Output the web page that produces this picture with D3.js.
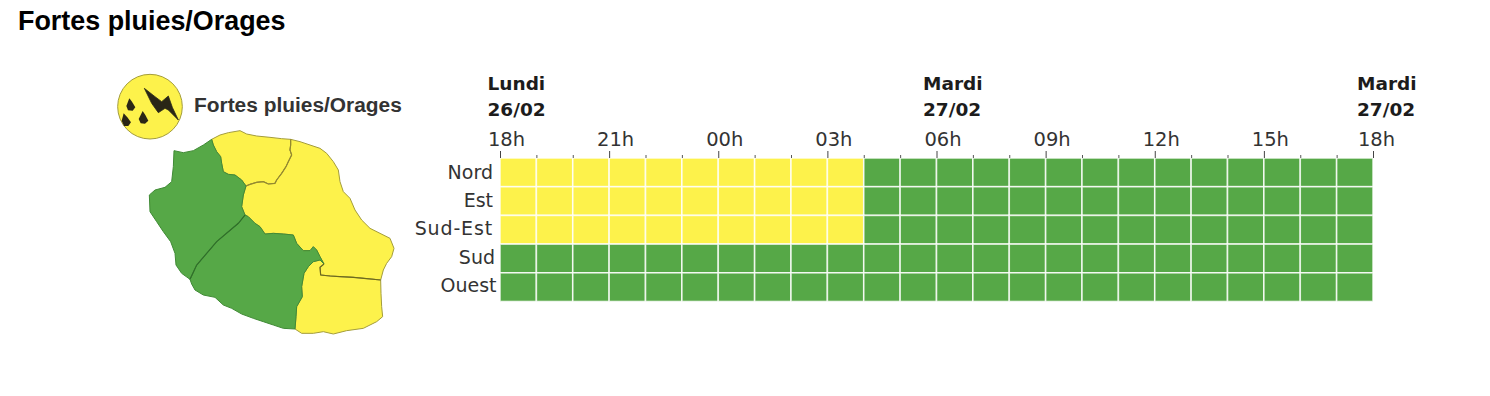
<!DOCTYPE html>
<html lang="fr">
<head>
<meta charset="utf-8">
<title>Fortes pluies/Orages</title>
<script src="https://cdn.jsdelivr.net/npm/d3@7"></script>
<style>
	html, body { margin: 0; background: #fff; }
	svg { display: block; }
	.title { font: bold 26.9px "Liberation Sans", sans-serif; fill: #000; }
	.legend { font: bold 20.9px "Liberation Sans", sans-serif; fill: #333; }
	.labels text { font: 19.5px "DejaVu Sans", sans-serif; fill: #333; }
	.labels--y text { font-size: 19px; }
	.labels .domain { display: none; }
	.day { font: bold 18.5px "DejaVu Sans", sans-serif; fill: #1c1c1c; }
</style>
</head>
<body>
<svg></svg>
<script>
const zones = ['Nord', 'Est', 'Sud-Est', 'Sud', 'Ouest'];
const hours = d3.range(0, 24);
const hourLabels = ['18h', '21h', '00h', '03h', '06h', '09h', '12h', '15h', '18h'];
const dayHours = [0, 12, 24];
const dayNames = ['Lundi', 'Mardi', 'Mardi'];
const dayDates = ['26/02', '27/02', '27/02'];

// vigilance level per hour, 1 = green, 2 = yellow
const nordLevels = [2, 2, 2, 2, 2, 2, 2, 2, 2, 2, 1, 1, 1, 1, 1, 1, 1, 1, 1, 1, 1, 1, 1, 1];
const estLevels = [2, 2, 2, 2, 2, 2, 2, 2, 2, 2, 1, 1, 1, 1, 1, 1, 1, 1, 1, 1, 1, 1, 1, 1];
const sudEstLevels = [2, 2, 2, 2, 2, 2, 2, 2, 2, 2, 1, 1, 1, 1, 1, 1, 1, 1, 1, 1, 1, 1, 1, 1];
const sudLevels = [1, 1, 1, 1, 1, 1, 1, 1, 1, 1, 1, 1, 1, 1, 1, 1, 1, 1, 1, 1, 1, 1, 1, 1];
const ouestLevels = [1, 1, 1, 1, 1, 1, 1, 1, 1, 1, 1, 1, 1, 1, 1, 1, 1, 1, 1, 1, 1, 1, 1, 1];
const levels = [nordLevels, estLevels, sudEstLevels, sudLevels, ouestLevels];

// island outline, traced in map units, split in shared arcs
const coastNord = [[335, 238], [360, 225], [385, 218], [420, 212], [440, 222], [470, 228], [510, 232], [545, 236], [572, 238]];
const coastEst = [[572, 238], [600, 245], [630, 255], [660, 265], [680, 280], [700, 305], [715, 330], [720, 365], [730, 395], [750, 415], [765, 450], [785, 480], [810, 505], [840, 520], [870, 535], [882, 565], [875, 590], [860, 610], [850, 630], [842, 660]];
const coastSudEst = [[842, 660], [843, 700], [845, 740], [848, 770], [830, 785], [790, 805], [740, 812], [700, 822], [670, 815], [640, 820], [605, 820], [585, 807]];
const coastSud = [[585, 807], [550, 805], [520, 795], [490, 785], [460, 775], [425, 762], [395, 745], [370, 735], [345, 712], [310, 705], [285, 690], [275, 672], [270, 658]];
const coastOuest = [[270, 658], [245, 640], [228, 615], [225, 580], [212, 545], [190, 515], [170, 485], [150, 455], [148, 405], [165, 390], [195, 382], [215, 365], [220, 320], [222, 272], [250, 278], [280, 272], [310, 255], [335, 238]];
const borderNordEst = [[572, 238], [572, 255], [570, 270], [575, 285], [565, 305], [558, 320], [545, 340], [530, 360], [525, 370], [505, 372], [490, 365], [470, 367], [450, 373], [438, 378]];
const borderNordOuest = [[438, 378], [425, 360], [405, 345], [385, 343], [370, 335], [365, 310], [362, 290], [350, 275], [340, 255], [335, 238]];
const borderEstOuest = [[438, 378], [430, 405], [425, 440], [435, 465]];
const borderEstSud = [[435, 465], [445, 470], [465, 490], [480, 500], [495, 522], [520, 520], [550, 522], [580, 525], [590, 550], [610, 572], [630, 572], [640, 560], [650, 570], [660, 590], [672, 612]];
const borderEstSudEst = [[672, 612], [660, 622], [662, 645], [690, 648], [720, 650], [760, 652], [800, 656], [842, 660]];
const borderSudSudEst = [[672, 612], [660, 600], [640, 605], [625, 620], [612, 640], [605, 680], [607, 710], [590, 740], [588, 770], [585, 807]];
const borderSudOuest = [[435, 465], [415, 490], [385, 515], [350, 545], [320, 580], [290, 615], [270, 658]];

const rev = arc => arc.slice().reverse();
const regions = [
	{ zone: 'Nord', points: [...coastNord, ...borderNordEst, ...borderNordOuest] },
	{ zone: 'Est', points: [...coastEst, ...rev(borderEstSudEst), ...rev(borderEstSud), ...rev(borderEstOuest), ...rev(borderNordEst)] },
	{ zone: 'Sud-Est', points: [...coastSudEst, ...rev(borderSudSudEst), ...borderEstSudEst] },
	{ zone: 'Sud', points: [...coastSud, ...rev(borderSudOuest), ...borderEstSud, ...borderSudSudEst] },
	{ zone: 'Ouest', points: [...coastOuest, ...rev(borderNordOuest), ...borderEstOuest, ...borderSudOuest] }
];

const iconBolt = [[133, 85], [165, 110], [185, 125], [205, 108], [217, 142], [235, 180], [205, 150], [195, 145], [175, 158], [155, 130]];
const iconDrops = [
	[[88, 115], [96, 125], [106, 142], [98, 152], [84, 151], [79, 138]],
	[[128, 153], [136, 165], [145, 182], [135, 191], [122, 190], [116, 177]],
	[[71, 160], [82, 172], [93, 187], [85, 198], [72, 198], [65, 182]]
];

const width = 1490;
const height = 396;
const colors = { 1: '#57a846', 2: '#fdf24b' };
const edgeColors = { 1: '#3f8a35', 2: '#a39c3c' };

const svg = d3.select('svg')
	.attr('width', width)
	.attr('height', height);

svg.append('text')
	.attr('class', 'title')
	.attr('x', 18)
	.attr('y', 30)
	.text('Fortes pluies/Orages');

svg.append('defs').append('filter')
	.attr('id', 'soft')
	.append('feGaussianBlur')
	.attr('stdDeviation', 0.5);

// map
const mapX = d3.scaleLinear().domain([0, 960]).range([100, 420]);
const mapY = d3.scaleLinear().domain([0, 870]).range([60, 350]);
const mapLine = d3.line().x(d => mapX(d[0])).y(d => mapY(d[1]));
const levelOf = zone => levels[zones.indexOf(zone)][0];

const map = svg.append('g').attr('filter', 'url(#soft)');

map.append('g').selectAll('path').data(regions)
	.enter().append('path')
		.attr('d', d => mapLine.curve(d3.curveLinearClosed)(d.points))
		.attr('fill', d => colors[levelOf(d.zone)])
		.attr('stroke', d => edgeColors[levelOf(d.zone)])
		.attr('stroke-width', 1)
		.attr('stroke-linejoin', 'round');

// inner borders that show darker than the coast
const darkBorders = [
	{ arc: borderSudOuest, color: '#2f6f2a' },
	{ arc: borderNordEst, color: '#94892f' },
	{ arc: borderEstSudEst, color: '#6d6a1f' }
];
map.append('g').selectAll('path').data(darkBorders)
	.enter().append('path')
		.attr('d', d => mapLine.curve(d3.curveLinear)(d.arc))
		.attr('fill', 'none')
		.attr('stroke', d => d.color)
		.attr('stroke-width', 1.2);

// icon
const icon = svg.append('g').attr('filter', 'url(#soft)');
icon.append('circle')
	.attr('cx', mapX(150))
	.attr('cy', mapY(140))
	.attr('r', mapX(247) - mapX(150))
	.attr('fill', colors[2])
	.attr('stroke', edgeColors[2])
	.attr('stroke-width', 1);
icon.append('path')
	.attr('d', mapLine.curve(d3.curveLinearClosed)(iconBolt))
	.attr('fill', '#2a2718')
	.attr('stroke', '#2a2718')
	.attr('stroke-width', 0.8);
icon.selectAll('path.drop').data(iconDrops)
	.enter().append('path')
		.attr('class', 'drop')
		.attr('d', d => mapLine.curve(d3.curveLinearClosed)(d))
		.attr('fill', '#2a2718');

svg.append('text')
	.attr('class', 'legend')
	.attr('x', 194)
	.attr('y', 112)
	.text('Fortes pluies/Orages');

// timeline
const margin = { top: 158, left: 500 };
const innerWidth = 873;
const innerHeight = 143.5;

const xScale = d3.scaleLinear()
	.domain([0, 24])
	.range([0, innerWidth]);

const cellScale = d3.scaleBand()
	.domain(hours)
	.range([0, innerWidth]);

const yScale = d3.scaleBand()
	.domain(zones)
	.range([0, innerHeight]);

const g = svg.append('g')
	.attr('transform', `translate(${margin.left},${margin.top})`);

const cells = zones.flatMap((zone, i) => hours.map(h => ({ zone, hour: h, level: levels[i][h] })));

g.append('g').attr('filter', 'url(#soft)')
	.selectAll('rect').data(cells)
	.enter().append('rect')
		.attr('x', d => cellScale(d.hour))
		.attr('y', d => yScale(d.zone))
		.attr('width', cellScale.bandwidth())
		.attr('height', yScale.bandwidth())
		.attr('fill', d => colors[d.level])
		.attr('stroke', '#fff')
		.attr('stroke-opacity', 0.8)
		.attr('stroke-width', 1.6);

const majorAxis = d3.axisTop(xScale)
	.tickValues(d3.range(0, 25, 3))
	.tickFormat((d, i) => hourLabels[i])
	.tickSize(7)
	.tickPadding(5);

const minorAxis = d3.axisTop(xScale)
	.tickValues(d3.range(0, 25).filter(h => h % 3 !== 0))
	.tickSize(3);

const minorGroup = g.append('g').attr('class', 'labels').call(minorAxis);
minorGroup.selectAll('line').attr('stroke', '#555');
minorGroup.selectAll('text').remove();

const xAxisGroup = g.append('g').attr('class', 'labels').call(majorAxis);
xAxisGroup.selectAll('line').attr('stroke', '#444');
// labels sit a little right of their tick, the last one less so
xAxisGroup.selectAll('text').attr('dx', d => d === 24 ? 3 : 6);

const yAxis = d3.axisLeft(yScale)
	.tickSize(0)
	.tickPadding(7);

// the row labels are not quite aligned in the original
const rowNudge = { Nord: [0, 1], Est: [0, 0], 'Sud-Est': [0, -1], Sud: [2, -1], Ouest: [3.5, -1] };

const yAxisGroup = g.append('g').attr('class', 'labels labels--y').call(yAxis);
yAxisGroup.selectAll('text')
	.attr('transform', d => `translate(${rowNudge[d][0]},${rowNudge[d][1]})`)
	.style('letter-spacing', d => d === 'Sud-Est' ? '0.85px' : null);

const dayX = d3.scaleLinear().domain([0, 12, 24]).range([-12.5, 423, 857]);

const dayGroups = g.append('g').selectAll('g').data(dayHours)
	.enter().append('g')
		.attr('transform', d => `translate(${dayX(d)},0)`);

dayGroups.append('text')
	.attr('class', 'day')
	.attr('y', -68)
	.text((d, i) => dayNames[i]);

dayGroups.append('text')
	.attr('class', 'day')
	.attr('y', -42.5)
	.text((d, i) => dayDates[i]);
</script>
</body>
</html>
